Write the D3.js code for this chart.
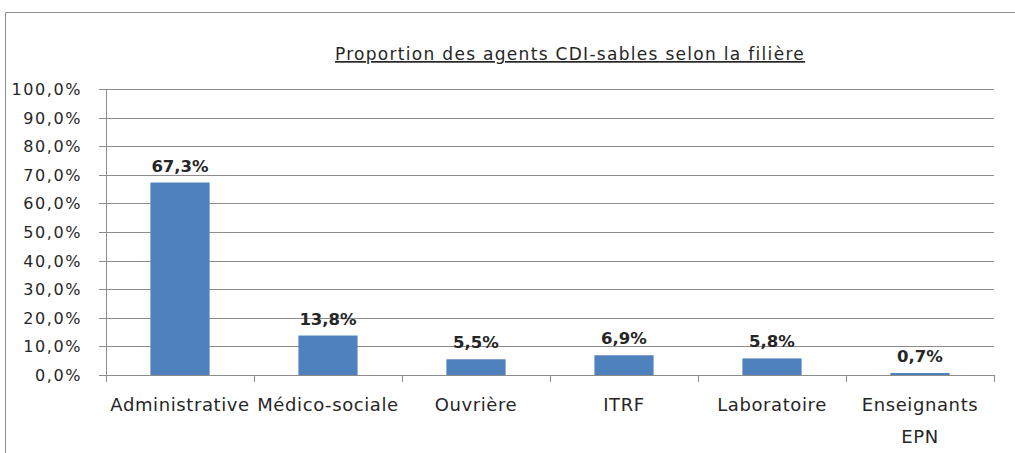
<!DOCTYPE html>
<meta charset="utf-8">
<style>
body { margin: 0; background: #fff; }
text { font-family: "DejaVu Sans", "Liberation Sans", sans-serif; fill: #262626; }
.grid line { stroke: #8c8c8c; stroke-width: 1px; }
.bar { fill: #4f81bd; }
</style>
<body>
<svg width="1015" height="453"></svg>
<script src="https://d3js.org/d3.v7.min.js"></script>
<script>

var categories = ["Administrative", "Médico-sociale", "Ouvrière", "ITRF", "Laboratoire", "Enseignants EPN"]
var values = [67.3, 13.8, 5.5, 6.9, 5.8, 0.7]
var yTicks = [0, 10, 20, 30, 40, 50, 60, 70, 80, 90, 100]
var title = "Proportion des agents CDI-sables selon la filière"

var svg = d3.select("svg"),
    width = +svg.attr("width"),
    height = +svg.attr("height");

var m = {left: 106, right: 21, top: 89, bottom: 78}

var fmt = function(v, dec) { return v.toFixed(dec).replace(".", ",") + "%" }

// frame of the chart object
svg.append("path")
    .attr("d", "M5.5," + height + "V12.5H" + width)
    .attr("fill", "none")
    .attr("stroke", "#8c8c8c")

var x = d3.scaleBand()
    .domain(categories)
    .range([m.left, width - m.right])
    .paddingInner(0.6)
    .paddingOuter(0.3)

var y = d3.scaleLinear()
    .domain([0, 100])
    .range([height - m.bottom, m.top])

// gridlines
svg.append("g").attr("class", "grid")
  .selectAll("line")
  .data(yTicks)
  .enter().append("line")
    .attr("x1", m.left - 7)
    .attr("x2", width - m.right)
    .attr("y1", d => Math.round(y(d)) + 0.5)
    .attr("y2", d => Math.round(y(d)) + 0.5)

svg.append("line")
    .attr("x1", m.left + 0.5).attr("x2", m.left + 0.5)
    .attr("y1", y(100)).attr("y2", y(0))
    .attr("stroke", "#8c8c8c")

// y labels
svg.append("g")
  .selectAll("text")
  .data(yTicks)
  .enter().append("text")
    .attr("x", m.left - 24)
    .attr("y", d => y(d) + 6)
    .attr("text-anchor", "end")
    .style("font-size", "16px")
    .style("letter-spacing", "1.6px")
    .text(d => fmt(d, 1))

// category ticks
var step = (width - m.right - m.left) / categories.length
svg.append("g")
  .selectAll("line")
  .data(d3.range(categories.length + 1))
  .enter().append("line")
    .attr("x1", i => Math.round(m.left + i * step) + 0.5)
    .attr("x2", i => Math.round(m.left + i * step) + 0.5)
    .attr("y1", y(0))
    .attr("y2", y(0) + 7)
    .attr("stroke", "#8c8c8c")

// bars
svg.selectAll(".bar")
  .data(values)
  .enter().append("rect")
    .attr("class", "bar")
    .attr("x", (d, i) => x(categories[i]))
    .attr("width", x.bandwidth())
    .attr("y", d => y(d))
    .attr("height", d => y(0) - y(d))

// value labels
svg.selectAll(".lbl")
  .data(values)
  .enter().append("text")
    .attr("class", "lbl")
    .attr("x", (d, i) => x(categories[i]) + x.bandwidth() / 2)
    .attr("y", d => y(d) - 11)
    .attr("text-anchor", "middle")
    .style("font-size", "16.5px")
    .style("font-weight", "bold")
    .text(d => fmt(d, 1))

// category labels, last one on two lines
svg.selectAll(".cat")
  .data(categories)
  .enter().append("text")
    .attr("class", "cat")
    .attr("x", d => x(d) + x.bandwidth() / 2)
    .attr("y", y(0) + 36)
    .attr("text-anchor", "middle")
    .style("font-size", "18px")
    .style("letter-spacing", "0.6px")
    .each(function(d) {
      var parts = d == "Enseignants EPN" ? ["Enseignants", "EPN"] : [d]
      var t = d3.select(this)
      parts.forEach((p, k) => {
        t.append("tspan").attr("x", t.attr("x")).attr("dy", k ? 32 : 0).text(p)
      })
    })

svg.append("text")
    .attr("x", 570)
    .attr("y", 60)
    .attr("text-anchor", "middle")
    .style("font-size", "17px")
    .style("letter-spacing", "1.3px")
    .style("text-decoration", "underline")
    .text(title)

</script>
</body>
